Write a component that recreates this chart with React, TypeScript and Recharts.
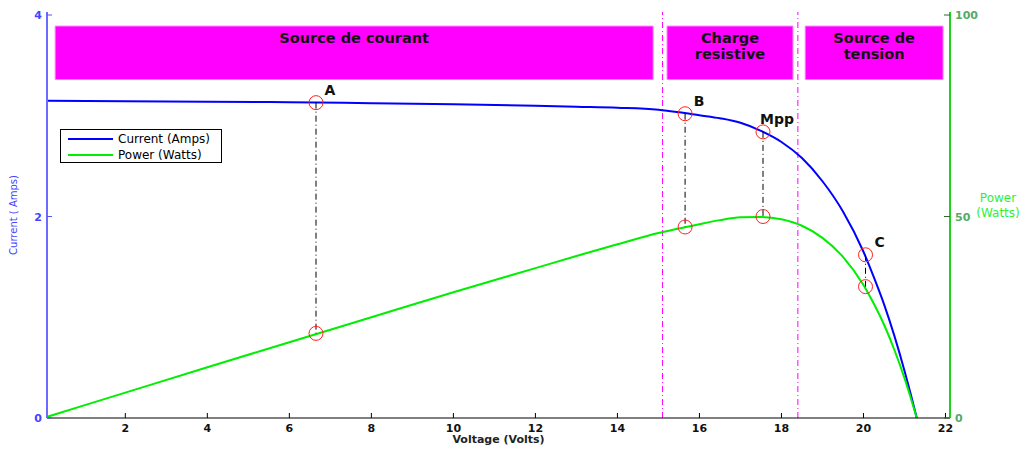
import React from "react";
import {
  ComposedChart,
  Line,
  XAxis,
  YAxis,
  ReferenceArea,
  ReferenceLine,
  ReferenceDot,
  Label,
  Legend,
} from "recharts";

// I-V and P-V curves of the panel
const voltage = [0, 2, 4, 6, 8, 10, 12, 13, 14, 15, 15.5, 16, 16.5, 17, 17.5, 18, 18.5, 19, 19.5, 20, 20.25, 20.5, 20.75, 21, 21.15, 21.3];
const current = [3.15, 3.145, 3.14, 3.135, 3.125, 3.115, 3.1, 3.09, 3.08, 3.06, 3.035, 3.005, 2.975, 2.93, 2.85, 2.74, 2.58, 2.35, 2.05, 1.65, 1.4, 1.13, 0.82, 0.47, 0.24, 0];
const power = [0, 6.3, 12.6, 18.8, 25.0, 31.2, 37.2, 40.2, 43.1, 45.9, 47.0, 48.1, 49.1, 49.8, 49.9, 49.3, 47.7, 44.7, 40.0, 33.0, 28.4, 23.2, 17.0, 9.9, 5.1, 0];

const voltageTicks = [2, 4, 6, 8, 10, 12, 14, 16, 18, 20, 22];
const currentTicks = [0, 2, 4];
const powerTicks = [0, 50, 100];

// operating points
const pointNames = ["A", "B", "Mpp", "C"];
const pointV = [6.65, 15.65, 17.55, 20.05];
const pointI = [3.13, 3.02, 2.84, 1.62];
const pointP = [21.0, 47.4, 50.0, 32.6];

// regions
const regionLabels = [["Source de courant"], ["Charge", "resistive"], ["Source de", "tension"]];
const regionFrom = [0.29, 15.21, 18.58];
const regionTo = [14.87, 18.28, 21.94];
const regionTop = 3.89;
const regionBottom = 3.36;
const regionBounds = [15.1, 18.4];

const I_MAX = 4.03;
const P_MAX = 100.75;

const rows = voltage.map((v, i) => ({ v, current: current[i], power: power[i] }));

const FONT = "'DejaVu Sans', sans-serif";

const BottomTick = ({ x, y, payload }: any) => (
  <g>
    <line x1={x} x2={x} y1={y} y2={y - 5} stroke="#000" />
    <text x={x} y={y + 14} textAnchor="middle" fontSize={11} fontWeight="bold" fontFamily={FONT} fill="#111">
      {payload.value}
    </text>
  </g>
);

const TopTick = ({ x, y }: any) => <line x1={x} x2={x} y1={y} y2={y + 5} stroke="#000" />;

const LeftTick = ({ x, y, payload }: any) => (
  <g>
    <line x1={x} x2={x + 5} y1={y} y2={y} stroke="#5555ff" />
    <text x={x - 5} y={y + 4} textAnchor="end" fontSize={11} fontWeight="bold" fontFamily={FONT} fill="#4444ff">
      {payload.value}
    </text>
  </g>
);

const RightTick = ({ x, y, payload }: any) => (
  <g>
    <line x1={x} x2={x - 6} y1={y} y2={y} stroke="#336633" />
    <text x={x + 5} y={y + 4} textAnchor="start" fontSize={11} fontWeight="bold" fontFamily={FONT} fill="#55aa66">
      {payload.value}
    </text>
  </g>
);

const LegendBox = () => (
  <div
    style={{
      width: 162,
      height: 34,
      boxSizing: "border-box",
      border: "1px solid #000",
      background: "#fff",
      paddingTop: 1,
      fontFamily: FONT,
      fontSize: 12,
      color: "#000",
    }}
  >
    {[
      { name: "Current (Amps)", color: "#0000ff" },
      { name: "Power (Watts)", color: "#00ee00" },
    ].map((s) => (
      <div key={s.name} style={{ display: "flex", alignItems: "center", height: 16 }}>
        <span style={{ display: "inline-block", width: 45, borderTop: `2px solid ${s.color}`, marginLeft: 7, marginRight: 5 }} />
        <span>{s.name}</span>
      </div>
    ))}
  </div>
);

const regionText = (lines: string[]) => ({ viewBox }: any) => (
  <text textAnchor="middle" fontSize={14.5} fontWeight="bold" fontFamily={FONT} fill="#111">
    {lines.map((t, k) => (
      <tspan key={t} x={viewBox.x + viewBox.width / 2} y={viewBox.y + 17 + k * 16}>
        {t}
      </tspan>
    ))}
  </text>
);

const pointText = (name: string) => ({ viewBox }: any) => (
  <text
    x={viewBox.x + viewBox.width / 2 + 14}
    y={viewBox.y + viewBox.height / 2 - 8}
    textAnchor="middle"
    fontSize={14}
    fontWeight="bold"
    fontFamily={FONT}
    fill="#111"
  >
    {name}
  </text>
);

export default function App() {
  return (
    <div style={{ position: "absolute", left: 0, top: 0, background: "#fff" }}>
      <ComposedChart width={1030} height={449} data={rows} margin={{ top: 12, right: 40, bottom: 1, left: 7 }}>
        <XAxis
          dataKey="v"
          type="number"
          domain={[0.09, 22.11]}
          ticks={voltageTicks}
          interval={0}
          allowDataOverflow
          tickSize={0}
          tickMargin={0}
          tickLine={false}
          tick={BottomTick}
          axisLine={{ stroke: "#000" }}
          height={30}
        >
          <Label
            content={({ viewBox }: any) => (
              <text x={viewBox.x + viewBox.width / 2} y={viewBox.y + 25} textAnchor="middle" fontSize={11} fontWeight="bold" fontFamily={FONT} fill="#222">
                Voltage (Volts)
              </text>
            )}
          />
        </XAxis>
        <XAxis
          xAxisId="top"
          orientation="top"
          dataKey="v"
          type="number"
          domain={[0.09, 22.11]}
          ticks={voltageTicks}
          interval={0}
          allowDataOverflow
          tickSize={0}
          tickMargin={0}
          tickLine={false}
          tick={TopTick}
          axisLine={{ stroke: "#000" }}
          height={0}
        />
        <YAxis
          yAxisId="left"
          type="number"
          domain={[0, I_MAX]}
          ticks={currentTicks}
          interval={0}
          allowDataOverflow
          tickSize={0}
          tickMargin={0}
          tickLine={false}
          tick={LeftTick}
          axisLine={{ stroke: "#6b6bff", strokeWidth: 2 }}
          width={40}
        >
          <Label
            content={({ viewBox }: any) => {
              const cx = viewBox.x + 10;
              const cy = viewBox.y + viewBox.height / 2;
              return (
                <text x={cx} y={cy} transform={`rotate(-90 ${cx} ${cy})`} textAnchor="middle" fontSize={10} fontFamily={FONT} fill="#4444ff">
                  Current ( Amps)
                </text>
              );
            }}
          />
        </YAxis>
        <YAxis
          yAxisId="right"
          orientation="right"
          type="number"
          domain={[0, P_MAX]}
          ticks={powerTicks}
          interval={0}
          allowDataOverflow
          tickSize={0}
          tickMargin={0}
          tickLine={false}
          tick={RightTick}
          axisLine={{ stroke: "#1ed01e", strokeWidth: 2 }}
          width={40}
        >
          <Label
            content={({ viewBox }: any) => (
              <text textAnchor="middle" fontSize={12} fontFamily={FONT} fill="#33ee33">
                <tspan x={viewBox.x + 48} y={viewBox.y + viewBox.height / 2 - 13}>Power</tspan>
                <tspan x={viewBox.x + 48} y={viewBox.y + viewBox.height / 2 + 2}>(Watts)</tspan>
              </text>
            )}
          />
        </YAxis>

        {regionLabels.map((lines, k) => (
          <ReferenceArea
            key={lines.join(" ")}
            yAxisId="left"
            x1={regionFrom[k]}
            x2={regionTo[k]}
            y1={regionBottom}
            y2={regionTop}
            fill="#ff00ff"
            fillOpacity={1}
            stroke="#ff77ff"
            strokeWidth={1}
            label={{ content: regionText(lines) } as any}
          />
        ))}
        {regionBounds.map((v) => (
          <ReferenceLine key={v} yAxisId="left" x={v} stroke="#ff00ff" strokeDasharray="6 3 1 3" />
        ))}

        <Line yAxisId="left" dataKey="current" type="monotone" stroke="#0000ff" strokeWidth={2} dot={false} isAnimationActive={false} />
        <Line yAxisId="right" dataKey="power" type="monotone" stroke="#00ee00" strokeWidth={2} dot={false} isAnimationActive={false} />

        {pointNames.map((name, k) => (
          <ReferenceLine
            key={"seg" + name}
            yAxisId="left"
            segment={[
              { x: pointV[k], y: pointI[k] },
              { x: pointV[k], y: (pointP[k] * I_MAX) / P_MAX },
            ]}
            stroke="#000"
            strokeDasharray="6 3 1 3"
          />
        ))}
        {pointNames.map((name, k) => (
          <ReferenceDot
            key={"i" + name}
            yAxisId="left"
            x={pointV[k]}
            y={pointI[k]}
            r={7}
            fill="none"
            stroke="#ff2020"
            strokeWidth={1}
            label={{ content: pointText(name) } as any}
          />
        ))}
        {pointNames.map((name, k) => (
          <ReferenceDot
            key={"p" + name}
            yAxisId="right"
            x={pointV[k]}
            y={pointP[k]}
            r={7}
            fill="none"
            stroke="#ff2020"
            strokeWidth={1}
          />
        ))}

        <Legend
          layout="horizontal"
          verticalAlign="middle"
          align="center"
          content={LegendBox}
          wrapperStyle={{ left: 60, top: 129, width: 162 }}
        />
      </ComposedChart>
    </div>
  );
}
